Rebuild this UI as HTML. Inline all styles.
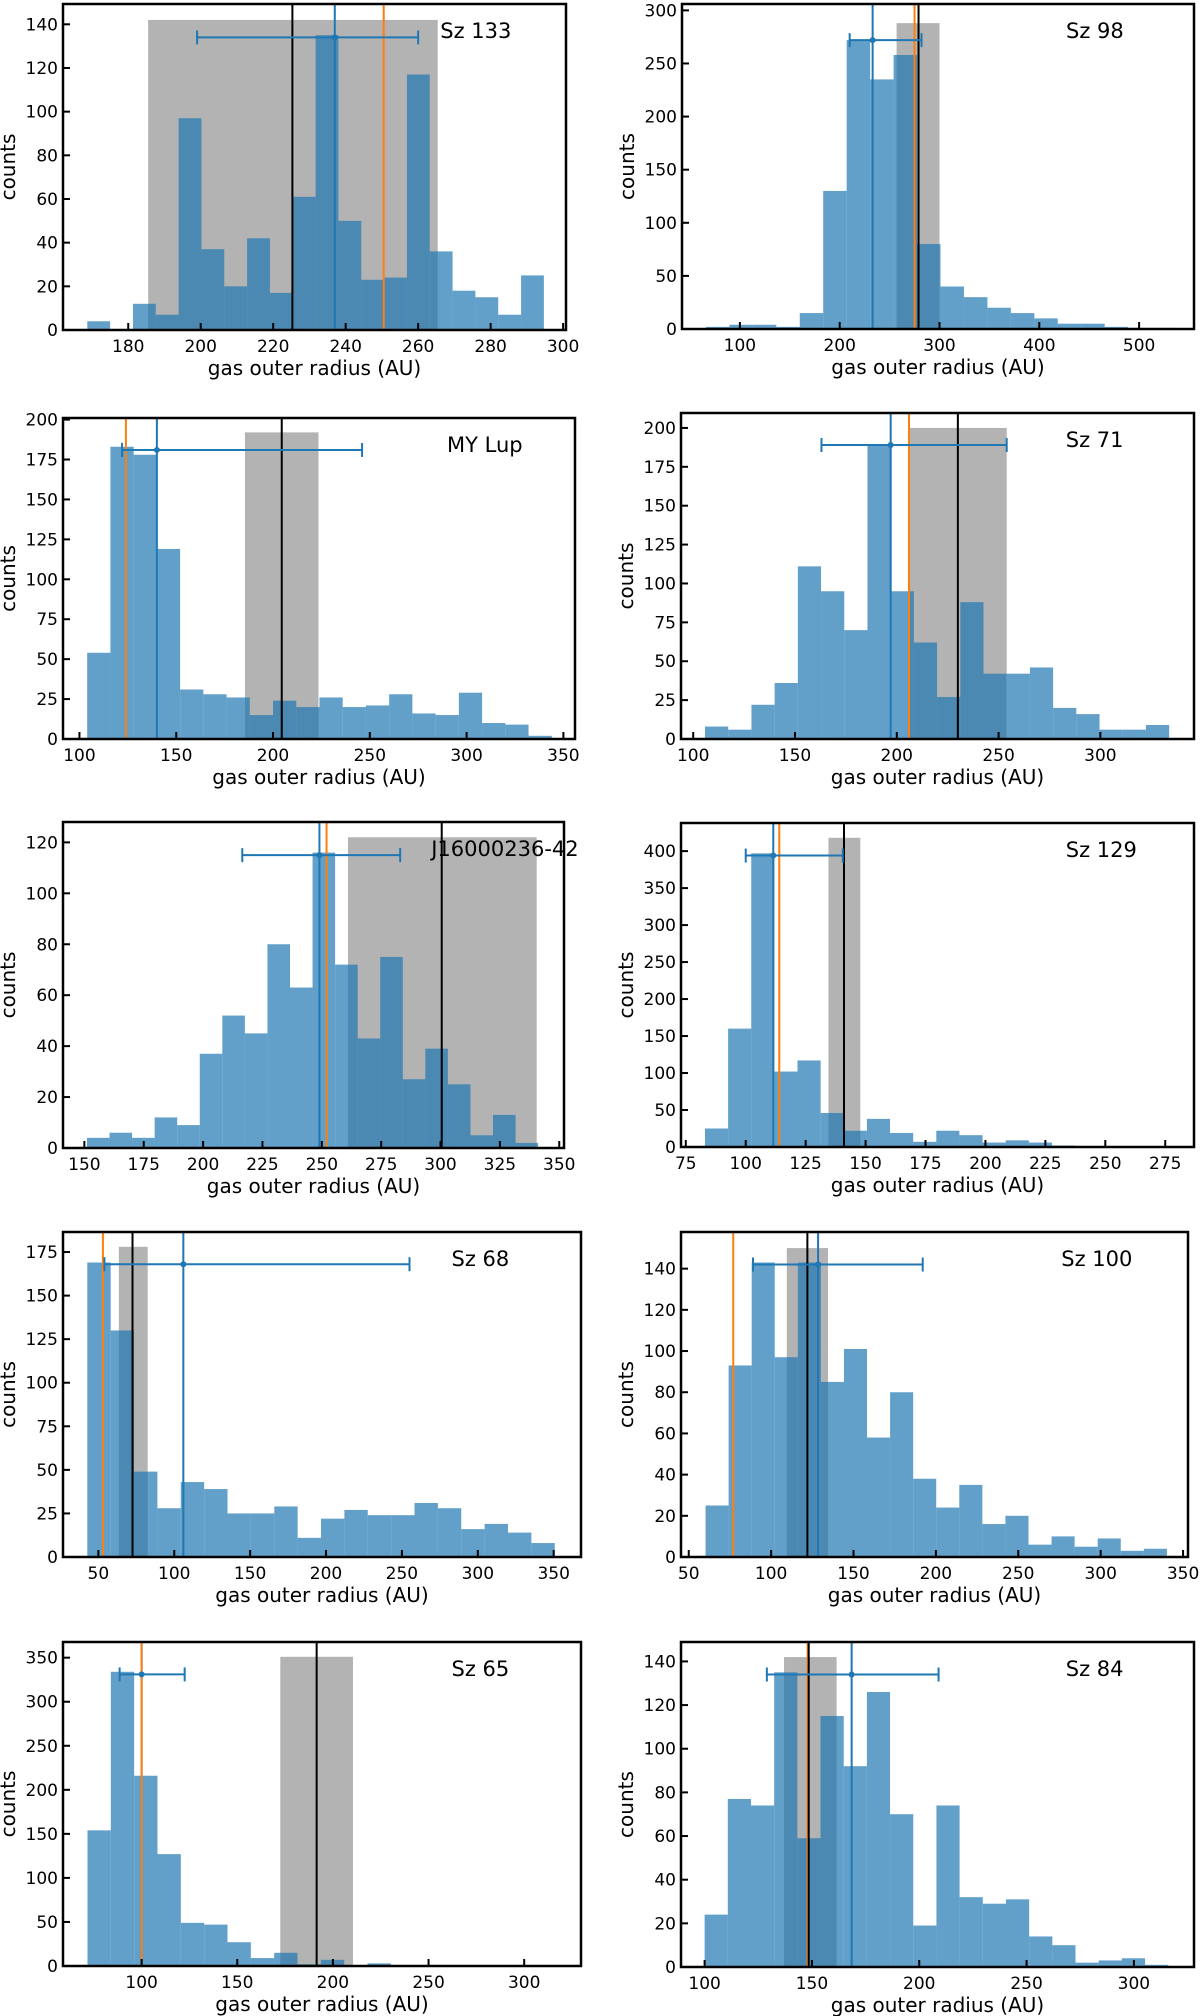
<!DOCTYPE html>
<html><head><meta charset="utf-8">
<style>
html,body{margin:0;padding:0;background:#fff;}
svg{display:block;font-family:"DejaVu Sans","Liberation Sans",sans-serif;}
</style></head>
<body>
<svg id="fig" width="1200" height="2016" viewBox="0 0 1200 2016" xmlns="http://www.w3.org/2000/svg"></svg>
<script>
// ---- data (bin start/width, counts, grey band [x0,x1,h], lines [black,blue,orange], errorbar [lo,center,hi,y]) ----
const sz133Bins=[168.7,6.3];
const sz133Counts=[4,0,12,7,97,37,20,42,17,61,135,50,23,24,117,36,18,15,7,25];
const sz133Grey=[185.5,265.4,142];
const sz133Lines=[225.3,237,250.5];
const sz133Err=[199,237,260,134];
const sz133XTicks=[180,200,220,240,260,280,300];
const sz133YTicks=[0,20,40,60,80,100,120,140];

const sz98Bins=[66,23.5];
const sz98Counts=[2,4,4,2,15,130,272,235,258,80,40,30,20,15,10,5,5,2,1,1];
const sz98Grey=[257,300,288];
const sz98Lines=[279,233,275];
const sz98Err=[210,233,282,272];
const sz98XTicks=[100,200,300,400,500];
const sz98YTicks=[0,50,100,150,200,250,300];

const myLupBins=[104,12];
const myLupCounts=[54,183,178,119,31,28,26,15,24,20,26,20,21,28,16,15,29,10,9,2];
const myLupGrey=[185.5,223.5,192];
const myLupLines=[204.5,140,124];
const myLupErr=[122,140,246,181];
const myLupXTicks=[100,150,200,250,300,350];
const myLupYTicks=[0,25,50,75,100,125,150,175,200];

const sz71Bins=[105.8,11.4];
const sz71Counts=[8,6,22,36,111,95,70,189,95,62,27,88,42,42,46,20,16,6,6,9];
const sz71Grey=[206,254,200];
const sz71Lines=[230,197,206];
const sz71Err=[163,197,254,189];
const sz71XTicks=[100,150,200,250,300];
const sz71YTicks=[0,25,50,75,100,125,150,175,200];

const j1600Bins=[151.1,9.5];
const j1600Counts=[4,6,4,12,9,37,52,45,80,63,116,72,43,75,27,39,25,5,13,2];
const j1600Grey=[261,340.5,122];
const j1600Lines=[300.5,249,252];
const j1600Err=[216.5,249,283,115];
const j1600XTicks=[150,175,200,225,250,275,300,325,350];
const j1600YTicks=[0,20,40,60,80,100,120];

const sz129Bins=[83,9.65];
const sz129Counts=[25,160,397,102,117,46,22,38,19,7,22,16,6,9,6,2,1,1,1,1];
const sz129Grey=[134.5,147.8,418];
const sz129Lines=[141,111.5,114];
const sz129Err=[100,111.5,140.5,394];
const sz129XTicks=[75,100,125,150,175,200,225,250,275];
const sz129YTicks=[0,50,100,150,200,250,300,350,400];

const sz68Bins=[42.7,15.4];
const sz68Counts=[169,130,49,28,43,39,25,25,29,11,22,27,24,24,31,28,16,19,14,8];
const sz68Grey=[63.5,82.5,178];
const sz68Lines=[72.5,106,53];
const sz68Err=[54,106,255,168];
const sz68XTicks=[50,100,150,200,250,300,350];
const sz68YTicks=[0,25,50,75,100,125,150,175];

const sz100Bins=[60.2,14];
const sz100Counts=[25,93,143,97,143,85,101,58,80,38,24,35,16,20,6,10,5,9,3,4];
const sz100Grey=[109.5,134.5,150];
const sz100Lines=[122,128.5,77];
const sz100Err=[89,128.5,192,142];
const sz100XTicks=[50,100,150,200,250,300,350];
const sz100YTicks=[0,20,40,60,80,100,120,140];

const sz65Bins=[71.7,12.2];
const sz65Counts=[154,334,216,127,49,47,27,9,15,2,7,0,3,1,1,1,1,1,0,0];
const sz65Grey=[172.5,210.5,351];
const sz65Lines=[191.5,100,100];
const sz65Err=[88.5,100,122.5,331];
const sz65XTicks=[100,150,200,250,300];
const sz65YTicks=[0,50,100,150,200,250,300,350];

const sz84Bins=[100,10.8];
const sz84Counts=[24,77,74,135,59,115,92,126,70,19,74,32,29,31,14,10,2,3,4,1];
const sz84Grey=[137,161.5,142];
const sz84Lines=[148.5,168.5,148];
const sz84Err=[129,168.5,209,134];
const sz84XTicks=[100,150,200,250,300];
const sz84YTicks=[0,20,40,60,80,100,120,140];

// ---- layout (pixel boxes and axis limits) ----
const panels=[
 {id:'sz-133',label:'Sz 133',lf:0.75,box:[63,4,566,330],lim:[162,300.8,149.3],bins:sz133Bins,counts:sz133Counts,grey:sz133Grey,lines:sz133Lines,err:sz133Err,xt:sz133XTicks,yt:sz133YTicks},
 {id:'sz-98',label:'Sz 98',lf:0.75,box:[682,4,1194,329],lim:[42,555,306],bins:sz98Bins,counts:sz98Counts,grey:sz98Grey,lines:sz98Lines,err:sz98Err,xt:sz98XTicks,yt:sz98YTicks},
 {id:'my-lup',label:'MY Lup',lf:0.75,box:[63,418,575,739],lim:[91.5,356,201],bins:myLupBins,counts:myLupCounts,grey:myLupGrey,lines:myLupLines,err:myLupErr,xt:myLupXTicks,yt:myLupYTicks},
 {id:'sz-71',label:'Sz 71',lf:0.75,box:[681,413,1194,739],lim:[94,346,209.6],bins:sz71Bins,counts:sz71Counts,grey:sz71Grey,lines:sz71Lines,err:sz71Err,xt:sz71XTicks,yt:sz71YTicks},
 {id:'j16000236',label:'J16000236-42',lf:0.735,box:[63,822,564,1148],lim:[141,352,128],bins:j1600Bins,counts:j1600Counts,grey:j1600Grey,lines:j1600Lines,err:j1600Err,xt:j1600XTicks,yt:j1600YTicks},
 {id:'sz-129',label:'Sz 129',lf:0.75,box:[681,823,1194,1147],lim:[73,287,438],bins:sz129Bins,counts:sz129Counts,grey:sz129Grey,lines:sz129Lines,err:sz129Err,xt:sz129XTicks,yt:sz129YTicks},
 {id:'sz-68',label:'Sz 68',lf:0.75,box:[63,1232,581,1557],lim:[26.7,368,186.5],bins:sz68Bins,counts:sz68Counts,grey:sz68Grey,lines:sz68Lines,err:sz68Err,xt:sz68XTicks,yt:sz68YTicks},
 {id:'sz-100',label:'Sz 100',lf:0.75,box:[681,1232,1188,1557],lim:[45.3,353,157.8],bins:sz100Bins,counts:sz100Counts,grey:sz100Grey,lines:sz100Lines,err:sz100Err,xt:sz100XTicks,yt:sz100YTicks},
 {id:'sz-65',label:'Sz 65',lf:0.75,box:[63,1642,581,1966],lim:[58.9,329.7,367.8],bins:sz65Bins,counts:sz65Counts,grey:sz65Grey,lines:sz65Lines,err:sz65Err,xt:sz65XTicks,yt:sz65YTicks},
 {id:'sz-84',label:'Sz 84',lf:0.75,box:[681,1642,1194,1967],lim:[89,328,148.9],bins:sz84Bins,counts:sz84Counts,grey:sz84Grey,lines:sz84Lines,err:sz84Err,xt:sz84XTicks,yt:sz84YTicks}
];

const NS='http://www.w3.org/2000/svg';
const svg=document.getElementById('fig');
function mk(tag,attrs,parent){
  const e=document.createElementNS(NS,tag);
  for(const k in attrs) e.setAttribute(k,attrs[k]);
  (parent||svg).appendChild(e);
  return e;
}

panels.forEach(p=>{
  const [L,T,R,B]=p.box;
  const [x0,x1,ymax]=p.lim;
  const X=v=>L+(v-x0)/(x1-x0)*(R-L);
  const Y=v=>B-v/ymax*(B-T);
  const g=mk('g',{});
  
  
  const cid='clip-'+p.id;
  const cp=mk('clipPath',{id:cid},g);
  mk('rect',{x:L,y:T,width:R-L,height:B-T},cp);
  const plot=mk('g',{'clip-path':'url(#'+cid+')'},g);

  const gr=mk('rect',{x:X(p.grey[0]),y:Y(p.grey[2]),width:X(p.grey[1])-X(p.grey[0]),height:B-Y(p.grey[2]),fill:'#b3b3b3'},plot);
  
  

  p.counts.forEach((c,i)=>{
    const a=p.bins[0]+i*p.bins[1], b=a+p.bins[1];
    if(c<=0) return;
    const r=mk('rect',{x:X(a),y:Y(c),width:X(b)-X(a),height:B-Y(c),fill:'#1f77b4','fill-opacity':0.7},plot);
    
    
  });

  const lb=mk('line',{x1:X(p.lines[1]),x2:X(p.lines[1]),y1:T,y2:B,stroke:'#1f77b4','stroke-width':2},plot);
  
  
  const lo=mk('line',{x1:X(p.lines[2]),x2:X(p.lines[2]),y1:T,y2:B,stroke:'#ff7f0e','stroke-width':2},plot);
  
  
  const lk=mk('line',{x1:X(p.lines[0]),x2:X(p.lines[0]),y1:T,y2:B,stroke:'#000','stroke-width':2},plot);
  
  

  const ey=Y(p.err[3]);
  const eg=mk('g',{stroke:'#1f77b4','stroke-width':2},plot);
  
  
  mk('line',{x1:X(p.err[0]),x2:X(p.err[2]),y1:ey,y2:ey},eg);
  mk('line',{x1:X(p.err[0]),x2:X(p.err[0]),y1:ey-7,y2:ey+7},eg);
  mk('line',{x1:X(p.err[2]),x2:X(p.err[2]),y1:ey-7,y2:ey+7},eg);
  mk('circle',{cx:X(p.err[1]),cy:ey,r:3,fill:'#1f77b4',stroke:'none'},eg);

  const fr=mk('rect',{x:L,y:T,width:R-L,height:B-T,fill:'none',stroke:'#000','stroke-width':2.5},g);
  
  

  p.xt.forEach(v=>{
    const x=X(v);
    mk('line',{x1:x,x2:x,y1:B,y2:B-7,stroke:'#000','stroke-width':2},g);
    const t=mk('text',{x:x,y:B+22,'font-size':17,'text-anchor':'middle',fill:'#000'},g);
    t.textContent=v;
    
    
  });
  p.yt.forEach(v=>{
    const y=Y(v);
    mk('line',{x1:L,x2:L+7,y1:y,y2:y,stroke:'#000','stroke-width':2},g);
    const t=mk('text',{x:L-5,y:y+6,'font-size':17,'text-anchor':'end',fill:'#000'},g);
    t.textContent=v;
    
    
  });

  const xl=mk('text',{x:(L+R)/2,y:B+45,'font-size':20,'text-anchor':'middle',fill:'#000'},g);
  xl.textContent='gas outer radius (AU)';
  
  
  const yc=(T+B)/2, yx=L-48;
  const yl=mk('text',{x:yx,y:yc,'font-size':20,'text-anchor':'middle',fill:'#000',transform:'rotate(-90 '+yx+' '+yc+')'},g);
  yl.textContent='counts';
  
  

  const nl=mk('text',{x:L+p.lf*(R-L),y:T+34,'font-size':21,fill:'#000'},g);
  nl.textContent=p.label;
  
  
});
</script>
</body></html>
